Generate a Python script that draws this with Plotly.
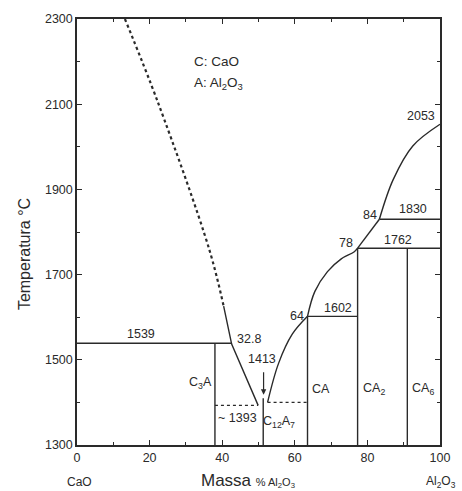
import plotly.graph_objects as go

# ---- data ----
liq_CaO_dotted_x = [13.2, 22.4, 36.4, 40.4]
liq_CaO_dotted_T = [2300, 2102, 1760, 1626]
liq_CaO_solid_x = [40.4, 42.6, 49.9]
liq_CaO_solid_T = [1626, 1537, 1393]

liq_C12A7_x = [52.5, 55.5, 59.3, 63.5]
liq_C12A7_T = [1400, 1491, 1560, 1602]
liq_CA_x = [63.5, 65.5, 69.0, 72.8, 76.3, 77.3]
liq_CA_T = [1602, 1660, 1707, 1737, 1753, 1762]
liq_CA2_x = [77.3, 83.3]
liq_CA2_T = [1762, 1830]
liq_A_x = [83.3, 87.1, 92.5, 100]
liq_A_T = [1830, 1923, 2002, 2053]

# compounds (vertical lines): x, top temperature
comp_names = ["C3A", "C12A7", "CA", "CA2", "CA6"]
comp_x = [38.0, 51.3, 63.5, 77.3, 91.0]
comp_top = [1539, 1410, 1602, 1762, 1762]

# invariant horizontals: (x0, x1, T)
hor_x0 = [0, 63.5, 77.3, 83.3]
hor_x1 = [42.6, 77.3, 100, 100]
hor_T = [1539, 1602, 1762, 1830]
dot_x0 = [38.0, 52.5]
dot_x1 = [49.9, 63.5]
dot_T = [1393, 1400]

# labels (x, T, text)
lab_x = [17.5, 47.3, 51.1, 34.1, 44.1, 55.6, 60.5, 67.2, 81.7, 95.4, 71.8, 74.2, 88.4, 80.6, 92.5, 94.9]
lab_T = [1560, 1549, 1502, 1446, 1363, 1353, 1602, 1432, 1432, 1432, 1621, 1774, 1781, 1840, 1853, 2072]
lab_txt = ["1539", "32.8", "1413", "C<sub>3</sub>A", "~ 1393", "C<sub>12</sub>A<sub>7</sub>", "64",
           "CA", "CA<sub>2</sub>", "CA<sub>6</sub>", "1602", "78", "1762", "84", "1830", "2053"]

x_ticks = [0, 20, 40, 60, 80, 100]
y_ticks = [1300, 1500, 1700, 1900, 2100, 2300]

LC = "#2a2a2a"
LW = 1.4
FONT = "Liberation Sans, Arial, sans-serif"

W, H = 462, 491
L, R, T, B = 77, 13, 15, 46

fig = go.Figure()

def line(x, y, dash="solid", width=LW, shape="linear"):
    fig.add_trace(go.Scatter(x=x, y=y, mode="lines",
                             line=dict(color=LC, width=width, dash=dash, shape=shape),
                             hoverinfo="skip", showlegend=False))

line(liq_CaO_dotted_x, liq_CaO_dotted_T, dash="dot", width=2.2, shape="spline")
line(liq_CaO_solid_x, liq_CaO_solid_T)
line(liq_C12A7_x, liq_C12A7_T, shape="spline")
line(liq_CA_x, liq_CA_T, shape="spline")
line(liq_CA2_x, liq_CA2_T)
line(liq_A_x, liq_A_T, shape="spline")

for x, t in zip(comp_x, comp_top):
    line([x, x], [1300, t])
for a, b, t in zip(hor_x0, hor_x1, hor_T):
    line([a, b], [t, t])
for a, b, t in zip(dot_x0, dot_x1, dot_T):
    line([a, b], [t, t], dash="dot", width=1.3)

for x, t, s in zip(lab_x, lab_T, lab_txt):
    fig.add_annotation(x=x, y=t, text=s, showarrow=False, xref="x", yref="y",
                       font=dict(size=12.5, color=LC, family=FONT))

# arrow for 1413
fig.add_annotation(x=51.4, y=1418, ax=0, ay=-24, text="", showarrow=True,
                   arrowhead=2, arrowsize=0.9, arrowwidth=1.2, arrowcolor=LC,
                   xref="x", yref="y")

fig.add_annotation(x=31.7, y=2200, text="C: CaO", showarrow=False, xanchor="left",
                   font=dict(size=13.5, color=LC, family=FONT))
fig.add_annotation(x=31.7, y=2149, text="A: Al<sub>2</sub>O<sub>3</sub>", showarrow=False, xanchor="left",
                   font=dict(size=13.5, color=LC, family=FONT))

def px_to_paper(px, py):
    return (px - L) / (W - L - R), (H - B - py) / (H - T - B)

for txt, px, py, size, angle in [
    ("Temperatura °C", 23, 252, 16, -90),
    ("Massa <span style='font-size:11px'>% Al<sub>2</sub>O<sub>3</sub></span>", 252, 481, 17, 0),
    ("CaO", 80, 482, 12, 0),
    ("Al<sub>2</sub>O<sub>3</sub>", 450, 482, 12, 0),
]:
    fx, fy = px_to_paper(px, py)
    fig.add_annotation(x=fx, y=fy, xref="paper", yref="paper", text=txt, showarrow=False,
                       xanchor="center", yanchor="middle", textangle=angle,
                       font=dict(size=size, color=LC, family=FONT))

axis_common = dict(showgrid=False, zeroline=False, showline=True, linecolor=LC, linewidth=1.5,
                   mirror="ticks", ticks="inside", ticklen=5, tickwidth=1.3, tickcolor=LC,
                   tickfont=dict(size=12.5, color=LC, family=FONT))

fig.update_xaxes(range=[0, 100], tickvals=x_ticks, ticktext=[str(v) for v in x_ticks],
                 minor=dict(dtick=10, ticks="inside", ticklen=3, tickcolor=LC, tickwidth=1.2),
                 **axis_common)
fig.update_yaxes(range=[1300, 2300], tickvals=y_ticks, ticktext=[str(v) for v in y_ticks],
                 minor=dict(dtick=100, ticks="inside", ticklen=3, tickcolor=LC, tickwidth=1.2),
                 **axis_common)

fig.update_layout(width=W, height=H, margin=dict(l=L, r=R, t=T, b=B),
                  plot_bgcolor="white", paper_bgcolor="white",
                  font=dict(family=FONT, color=LC))

fig.write_html("out.html")
